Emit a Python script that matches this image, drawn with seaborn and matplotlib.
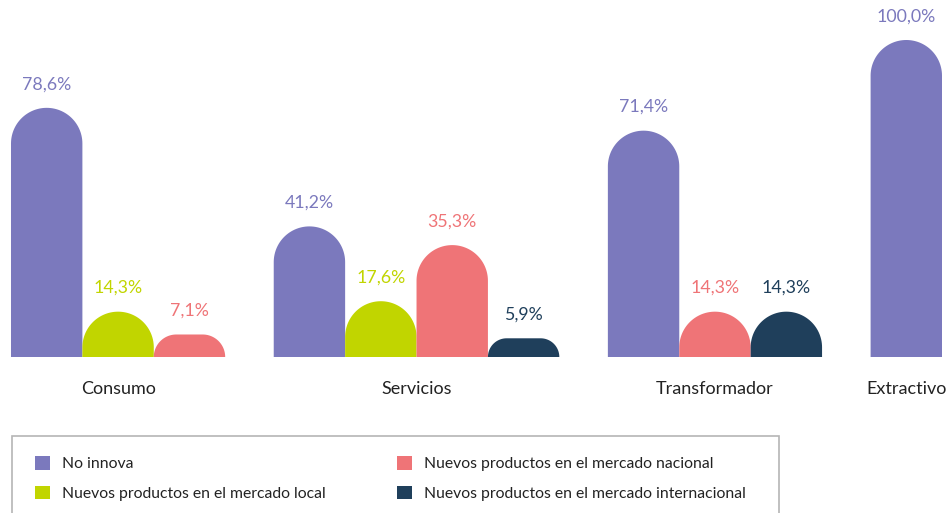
import numpy as np
import pandas as pd
import matplotlib
matplotlib.use("Agg")
import matplotlib.pyplot as plt
import seaborn as sns
from matplotlib.path import Path
from matplotlib.patches import PathPatch, Rectangle, Patch
from matplotlib.transforms import IdentityTransform

# ---------------- data ----------------
sectores = ["Consumo", "Servicios", "Transformador", "Extractivo"]
series = ["No innova",
          "Nuevos productos en el mercado local",
          "Nuevos productos en el mercado nacional",
          "Nuevos productos en el mercado internacional"]
colores = ["#7b79bd", "#c1d500", "#ef7477", "#1f3f5b"]
# one value per series, None = no bar
consumo = [78.6, 14.3, 7.1, None]
servicios = [41.2, 17.6, 35.3, 5.9]
transformador = [71.4, None, 14.3, 14.3]
extractivo = [100.0, None, None, None]
valores = [consumo, servicios, transformador, extractivo]

# ---------------- layout of bars ----------------
GAP = 0.68
rows = []
centros = []
cursor = 0.0
for sec, vals in zip(sectores, valores):
    pos_sec = []
    for s, v in zip(series, vals):
        if v is None:
            continue
        rows.append({"sector": sec, "serie": s, "valor": v, "pos": round(cursor, 3)})
        pos_sec.append(cursor)
        cursor += 1
    centros.append(np.mean(pos_sec))
    cursor += GAP
df = pd.DataFrame(rows)

sns.set_style("white")
plt.rcParams["font.family"] = ["Lato", "DejaVu Sans"]

W, H, DPI = 9.47, 5.13, 100
fig = plt.figure(figsize=(W, H), dpi=DPI)
base_px = 357
ax = fig.add_axes([0, (513 - base_px) / 513, 1, base_px / 513])

sns.barplot(data=df, x="pos", y="valor", hue="serie", hue_order=series,
            palette=colores, native_scale=True, width=1, dodge=False,
            saturation=1, errorbar=None, legend=False, ax=ax)

px_unit = 947 / 13.26
xmin = df["pos"].min() - 0.5 - 11 / px_unit
xmax = df["pos"].max() + 0.5 + 5 / px_unit
ax.set_xlim(xmin, xmax)
ax.set_ylim(0, base_px / 3.17)

for sp in ax.spines.values():
    sp.set_visible(False)
ax.set_yticks([])
ax.set_ylabel("")
ax.set_xlabel("")
ax.set_xticks(centros)
ax.set_xticklabels(sectores, fontsize=13, color="#222222")
ax.tick_params(axis="x", length=0, pad=17)

# replace rectangles with rounded-top bars
for p in list(ax.patches):
    x0, y0, w, h = p.get_x(), p.get_y(), p.get_width(), p.get_height()
    if h <= 0:
        continue
    X0, Y0 = ax.transData.transform((x0, y0))
    X1, Y1 = ax.transData.transform((x0 + w, y0 + h))
    r = min((X1 - X0) / 2, Y1 - Y0)
    t1 = np.linspace(np.pi, np.pi / 2, 30)
    t2 = np.linspace(np.pi / 2, 0, 30)
    pts = [(X0, Y0), (X0, Y1 - r)]
    pts += list(zip(X0 + r + r * np.cos(t1), Y1 - r + r * np.sin(t1)))
    pts += list(zip(X1 - r + r * np.cos(t2), Y1 - r + r * np.sin(t2)))
    pts += [(X1, Y0), (X0, Y0)]
    pp = PathPatch(Path(pts, closed=True), transform=IdentityTransform(),
                   facecolor=p.get_facecolor(), edgecolor="none")
    fig.add_artist(pp)
    p.set_visible(False)

# value labels
color_map = dict(zip(series, colores))
for _, row in df.iterrows():
    txt = f"{row['valor']:.1f}".replace(".", ",") + "%"
    ax.annotate(txt, (row["pos"], row["valor"]), xytext=(0, 17),
                textcoords="offset points", ha="center", va="center",
                color=color_map[row["serie"]], fontsize=12.8)

# legend frame
fig.add_artist(Rectangle((12 / 947, -0.05), (779 - 12) / 947, (513 - 436) / 513 + 0.05,
                         transform=fig.transFigure, facecolor="none",
                         edgecolor="#b5b5b5", linewidth=1.2))

handles = [Patch(facecolor=c, edgecolor="none", label=s) for s, c in zip(series, colores)]
kw = dict(frameon=False, fontsize=11.3, handlelength=0.95, handleheight=0.95,
          handletextpad=0.75, labelspacing=0.92, borderpad=0, borderaxespad=0,
          loc="upper left", labelcolor="#222222")
leg1 = fig.legend(handles=handles[:2], bbox_to_anchor=(35 / 947, 1 - 456 / 513), **kw)
leg2 = fig.legend(handles=handles[2:], bbox_to_anchor=(397 / 947, 1 - 456 / 513), **kw)

fig.savefig("out.png", dpi=DPI)
